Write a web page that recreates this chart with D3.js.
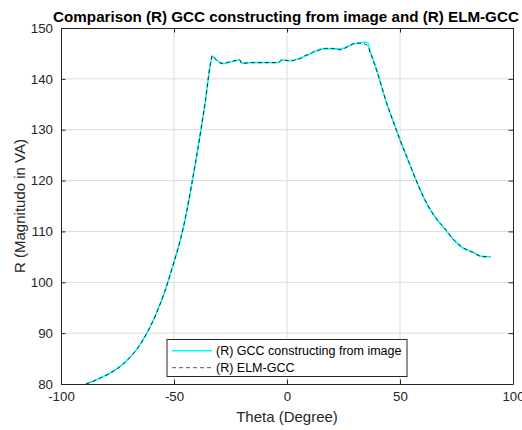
<!DOCTYPE html>
<html>
<head>
<meta charset="utf-8">
<script src="https://cdn.jsdelivr.net/npm/d3@7"></script>
<style>
  html, body { margin: 0; padding: 0; background: #fff; }
  svg { display: block; font-family: "Liberation Sans", Arial, sans-serif; }
</style>
</head>
<body>
<svg id="chart" width="522" height="430"></svg>
<script>
// Angle samples (degrees)
const theta = [-89, -86, -82, -78, -74, -70, -66, -62, -58, -54, -50, -48, -46, -44, -42, -40, -38, -36, -34, -33, -32, -30, -28, -26, -24, -22, -21, -20, -16, -10, -4, -2, 0, 2, 4, 6, 8, 10, 12, 14, 16, 20, 24, 26, 28, 30, 32, 34, 35.5, 37, 40, 44, 48, 50, 54, 58, 62, 66, 70, 74, 78, 82, 86, 90];

// R computed from the image
const gccImage = [80.0, 80.5, 81.3, 82.2, 83.4, 85.0, 87.1, 90.0, 93.7, 98.3, 104.0, 107.0, 110.5, 114.8, 119.7, 124.8, 130.2, 136.0, 142.6, 144.4, 144.0, 143.3, 143.0, 143.2, 143.4, 143.6, 143.7, 143.1, 143.2, 143.2, 143.2, 143.7, 143.6, 143.6, 143.8, 144.1, 144.5, 144.9, 145.3, 145.7, 145.9, 145.9, 145.9, 146.2, 146.6, 146.9, 147.1, 147.2, 147.2, 145.2, 141.3, 135.3, 130.5, 128.0, 123.5, 119.2, 115.3, 112.6, 110.4, 108.3, 106.7, 106.0, 105.1, 105.0];

// R predicted by the ELM model
const elmGcc = [80.0, 80.5, 81.3, 82.2, 83.4, 85.0, 87.1, 90.0, 93.7, 98.3, 104.0, 107.0, 110.5, 114.8, 119.7, 124.8, 130.2, 136.0, 142.7, 144.6, 144.1, 143.2, 143.0, 143.3, 143.5, 143.7, 143.8, 143.0, 143.2, 143.2, 143.2, 143.8, 143.6, 143.5, 143.8, 144.0, 144.6, 144.8, 145.4, 145.6, 146.0, 146.0, 145.7, 146.1, 146.6, 147.0, 147.0, 146.9, 146.6, 145.0, 141.2, 135.4, 130.4, 128.0, 123.6, 119.1, 115.4, 112.5, 110.5, 108.2, 106.8, 105.9, 105.1, 105.0];

const xTicks = [-100, -50, 0, 50, 100];
const yTicks = [80, 90, 100, 110, 120, 130, 140, 150];

const titleText = "Comparison (R) GCC constructing from image and (R) ELM-GCC";
const xLabel = "Theta (Degree)";
const yLabel = "R (Magnitudo in VA)";
const seriesNames = ["(R) GCC constructing from image", "(R) ELM-GCC"];

const svg = d3.select("#chart");
const m = { left: 61, right: 513, top: 28, bottom: 384 };

const x = d3.scaleLinear().domain([-100, 100]).range([m.left, m.right]);
const y = d3.scaleLinear().domain([80, 150]).range([m.bottom, m.top]);

const axisColor = "#262626";
const tickLen = 4.5;
const plainNum = d => String(d);

// grid
const grid = svg.append("g");
grid.selectAll("line.gx").data(xTicks.slice(1, -1)).join("line")
  .attr("x1", d => x(d)).attr("x2", d => x(d))
  .attr("y1", m.top).attr("y2", m.bottom)
  .attr("stroke", "#dcdcdc").attr("stroke-width", 1);
grid.selectAll("line.gy").data(yTicks.slice(1, -1)).join("line")
  .attr("y1", d => y(d)).attr("y2", d => y(d))
  .attr("x1", m.left).attr("x2", m.right)
  .attr("stroke", "#dcdcdc").attr("stroke-width", 1);

// clip region for the curves
svg.append("clipPath").attr("id", "plotClip").append("rect")
  .attr("x", m.left).attr("y", m.top)
  .attr("width", m.right - m.left).attr("height", m.bottom - m.top);

const line = d3.line().x(d => x(d[0])).y(d => y(d[1])).curve(d3.curveMonotoneX);
const plot = svg.append("g").attr("clip-path", "url(#plotClip)");

plot.append("path")
  .datum(theta.map((t, i) => [t, gccImage[i]]))
  .attr("d", line).attr("fill", "none")
  .attr("stroke", "#00ffff").attr("stroke-width", 1.6)
  .attr("stroke-linejoin", "round");

plot.append("path")
  .datum(theta.map((t, i) => [t, elmGcc[i]]))
  .attr("d", line).attr("fill", "none")
  .attr("stroke", "#2a2a2a").attr("stroke-width", 1)
  .attr("stroke-dasharray", "4,3");

// axes (box with inward ticks on all sides)
const bottomAxis = d3.axisBottom(x).tickValues(xTicks).tickFormat(plainNum).tickSizeInner(-tickLen).tickSizeOuter(0).tickPadding(8);
const topAxis = d3.axisTop(x).tickValues(xTicks).tickSizeInner(-tickLen).tickSizeOuter(0).tickFormat("");
const leftAxis = d3.axisLeft(y).tickValues(yTicks).tickFormat(plainNum).tickSizeInner(-tickLen).tickSizeOuter(0).tickPadding(8);
const rightAxis = d3.axisRight(y).tickValues(yTicks).tickSizeInner(-tickLen).tickSizeOuter(0).tickFormat("");

function styleAxis(g) {
  g.select(".domain").attr("stroke", axisColor).attr("stroke-width", 1);
  g.selectAll(".tick line").attr("stroke", axisColor);
  g.selectAll(".tick text").attr("fill", axisColor)
    .style("font-family", "'Liberation Sans', Arial, sans-serif").style("font-size", "13.3px");
}

svg.append("g").attr("transform", `translate(0,${m.bottom})`).call(bottomAxis).call(styleAxis);
svg.append("g").attr("transform", `translate(0,${m.top})`).call(topAxis).call(styleAxis);
svg.append("g").attr("transform", `translate(${m.left},0)`).call(leftAxis).call(styleAxis);
svg.append("g").attr("transform", `translate(${m.right},0)`).call(rightAxis).call(styleAxis);

// title and labels
svg.append("text")
  .attr("x", 286).attr("y", 22)
  .attr("text-anchor", "middle")
  .style("font-size", "15.2px").style("font-weight", "bold").attr("fill", "#000")
  .text(titleText);

svg.append("text")
  .attr("x", (m.left + m.right) / 2).attr("y", 422)
  .attr("text-anchor", "middle")
  .style("font-size", "15px").attr("fill", axisColor)
  .text(xLabel);

svg.append("text")
  .attr("transform", `translate(25,${(m.top + m.bottom) / 2}) rotate(-90)`)
  .attr("text-anchor", "middle")
  .style("font-size", "15px").attr("fill", axisColor)
  .text(yLabel);

// legend
const lg = svg.append("g");
lg.append("rect")
  .attr("x", 167).attr("y", 339.5).attr("width", 240).attr("height", 37)
  .attr("fill", "#fff").attr("stroke", axisColor).attr("stroke-width", 1);

const legendItems = [
  { name: seriesNames[0], color: "#00ffff", width: 1.6, dash: null },
  { name: seriesNames[1], color: "#555", width: 1, dash: "4,3" }
];
legendItems.forEach((it, i) => {
  const cy = 350.7 + i * 17;
  lg.append("line")
    .attr("x1", 172).attr("x2", 212).attr("y1", cy).attr("y2", cy)
    .attr("stroke", it.color).attr("stroke-width", it.width)
    .attr("stroke-dasharray", it.dash);
  lg.append("text")
    .attr("x", 216).attr("y", cy).attr("dy", "0.35em")
    .style("font-size", "12.5px").attr("fill", "#000")
    .text(it.name);
});
</script>
</body>
</html>
